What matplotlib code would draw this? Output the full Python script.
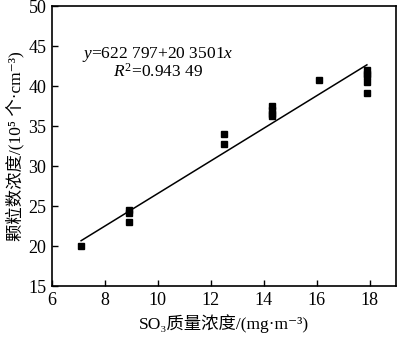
import numpy as np
import matplotlib
matplotlib.use('Agg')
import matplotlib.pyplot as plt

plt.rcParams['font.family'] = ['Liberation Serif', 'Noto Sans CJK SC', 'DejaVu Serif']
plt.rcParams['mathtext.fontset'] = 'custom'
plt.rcParams['mathtext.rm'] = 'Liberation Serif'
plt.rcParams['mathtext.it'] = 'Liberation Serif:italic'

# SO3 mass concentration (mg/m3) and particle number concentration (10^5 /cm3)
so3 = [7.1, 8.9, 8.9, 8.9, 12.5, 12.5, 14.3, 14.3, 14.3, 14.3, 16.1,
       17.9, 17.9, 17.9, 17.9, 17.9]
particles = [20.0, 24.5, 24.2, 23.0, 34.0, 32.8, 37.5, 37.0, 36.5, 36.2, 40.7,
             42.0, 41.5, 41.2, 40.5, 39.1]

# fitted line y = a + b*x
intercept = 6.22797
slope = 2.03501

fig = plt.figure(figsize=(4.0, 3.37), dpi=100)
ax = fig.add_axes([0.13, 0.151, 0.86, 0.831])

ax.plot(so3, particles, 's', color='black', markersize=4.4)
xfit = np.array([min(so3), max(so3)])
ax.plot(xfit, intercept + slope * xfit, color='black', linewidth=1.1)

ax.set_xlim(6, 19)
ax.set_ylim(15, 50)
ax.set_xticks([6, 8, 10, 12, 14, 16, 18])
ax.set_yticks([15, 20, 25, 30, 35, 40, 45, 50])
ax.tick_params(direction='in', labelsize=13, length=4, width=1, pad=4)
for s in ax.spines.values():
    s.set_linewidth(1.2)

ax.set_xlabel('SO₃质量浓度/(mg·m⁻³)', fontsize=12.5, labelpad=4)
ax.set_ylabel('颗粒数浓度/(10⁵ 个·cm⁻³)', fontsize=12.5, labelpad=3)

ax.text(10.0, 43.9, '$y$=622 797+20 3501$x$', ha='center', va='center', fontsize=12.5)
ax.text(10.0, 41.75, '$R^2$=0.943 49', ha='center', va='center', fontsize=12.5)

fig.savefig('out.png', dpi=100)
